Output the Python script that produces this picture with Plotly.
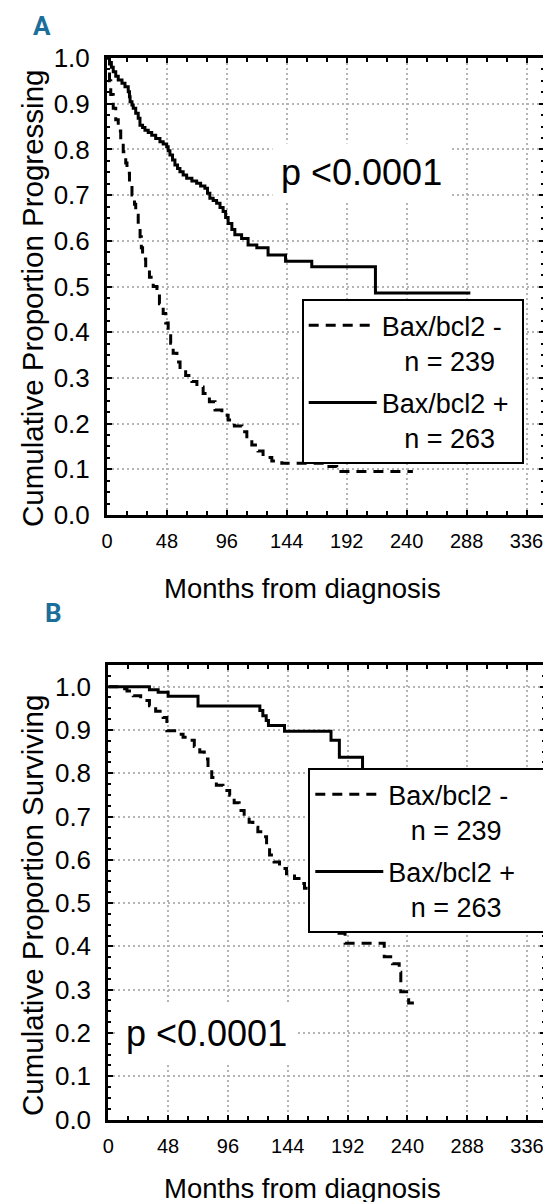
import plotly.graph_objects as go

W, H = 551, 1202
FONT = "Liberation Sans, Arial, sans-serif"

# ---------------- data ----------------
series_names = ["Bax/bcl2 -", "Bax/bcl2 +"]
n_labels = ["n = 239", "n = 263"]
x_ticks = [0, 48, 96, 144, 192, 240, 288, 336]
y_ticks = [0.0, 0.1, 0.2, 0.3, 0.4, 0.5, 0.6, 0.7, 0.8, 0.9, 1.0]
p_text = "p <0.0001"
panel_labels = ["A", "B"]
y_titles = ["Cumulative Proportion Progressing", "Cumulative Proportion Surviving"]
x_title = "Months from diagnosis"

# Panel A - cumulative proportion progressing (Kaplan-Meier steps)
a_neg_t = [0, 2, 3, 5, 7, 9, 11, 13, 15, 16, 18, 20, 22, 23, 25, 26.5, 27.5, 28.5, 31, 34,
           37, 40, 42, 45, 47, 49, 51, 53, 56, 58.5, 63, 68, 72, 77, 82, 86.5, 92, 97, 102, 108,
           112, 116, 121, 125, 132, 140, 174, 184, 245]
a_neg_p = [1.0, 0.95, 0.92, 0.89, 0.865, 0.84, 0.815, 0.795, 0.77, 0.748, 0.725, 0.70, 0.68, 0.656,
           0.632, 0.609, 0.585, 0.56, 0.54, 0.52, 0.50, 0.483, 0.462, 0.441, 0.42, 0.398, 0.376,
           0.354, 0.335, 0.317, 0.305, 0.292, 0.28, 0.266, 0.248, 0.23, 0.218, 0.208, 0.195, 0.182,
           0.168, 0.153, 0.14, 0.126, 0.118, 0.113, 0.106, 0.095, 0.095]
a_pos_t = [0, 2, 3.5, 5, 7, 9, 12, 14.4, 17, 18, 18.5, 20, 21, 23, 25, 26.4, 28.5, 30.4, 33, 35.8,
           39, 42.4, 45, 47.8, 49, 50.4, 52.5, 54.4, 56.5, 58.4, 61, 63.8, 68, 71.8, 75, 78.4, 80.5,
           82.4, 85, 87.8, 90.5, 93, 95, 97, 100, 102.4, 107.8, 113, 120, 129, 143, 164, 215, 291]
a_pos_p = [1.0, 0.99, 0.98, 0.97, 0.96, 0.952, 0.945, 0.937, 0.926, 0.915, 0.904, 0.897, 0.89, 0.879,
           0.868, 0.853, 0.848, 0.842, 0.837, 0.831, 0.824, 0.817, 0.812, 0.806, 0.797, 0.788, 0.777,
           0.766, 0.758, 0.751, 0.744, 0.737, 0.731, 0.726, 0.72, 0.715, 0.704, 0.693, 0.688, 0.682,
           0.673, 0.664, 0.651, 0.638, 0.625, 0.613, 0.605, 0.591, 0.585, 0.569, 0.555, 0.543, 0.486,
           0.486]

# Panel B - cumulative proportion surviving
b_neg_t = [0, 9, 15, 20, 26, 33, 38, 44, 47, 56, 60, 64, 69, 73.4, 77, 80, 83, 86.7, 92, 97.4,
           101, 105, 109, 113, 116, 120, 124, 127, 129.4, 133, 137.4, 143, 149.4, 153, 157.4, 170,
           182.7, 190, 221.4, 228, 233.4, 234.7, 241, 249.4]
b_neg_p = [1.0, 0.995, 0.99, 0.979, 0.968, 0.956, 0.943, 0.929, 0.898, 0.89, 0.883, 0.876, 0.862,
           0.849, 0.833, 0.81, 0.79, 0.772, 0.76, 0.749, 0.732, 0.714, 0.70, 0.687, 0.675, 0.665,
           0.653, 0.632, 0.611, 0.595, 0.58, 0.568, 0.557, 0.545, 0.534, 0.48, 0.43, 0.407, 0.376,
           0.36, 0.34, 0.295, 0.269, 0.269]
b_pos_t = [0, 33, 40, 48, 72, 121.6, 124, 126.7, 128.5, 141.4, 178.7, 185.4, 204, 210]
b_pos_p = [1.0, 0.993, 0.987, 0.978, 0.955, 0.945, 0.933, 0.922, 0.910, 0.897, 0.876, 0.837, 0.79,
           0.79]

# ---------------- figure ----------------
INDENT = "\u00a0\u00a0\u00a0"
DASH = "10px,7px"
LW = 3

fig = go.Figure()
panels = [
    (a_neg_t, a_neg_p, a_pos_t, a_pos_p, "x", "y", "legend", "\u00a0"),
    (b_neg_t, b_neg_p, b_pos_t, b_pos_p, "x2", "y2", "legend2", "\u2002\u2009\u2009"),
]
for nt, npv, pt, ppv, xa, ya, lg, tail in panels:
    fig.add_trace(go.Scatter(
        x=nt, y=npv, mode="lines", xaxis=xa, yaxis=ya, legend=lg, legendgroup=lg + "n",
        name=f"{series_names[0]}<br>{INDENT}{n_labels[0]}",
        line=dict(shape="hv", color="black", width=LW, dash=DASH)))
    fig.add_trace(go.Scatter(
        x=pt, y=ppv, mode="lines", xaxis=xa, yaxis=ya, legend=lg, legendgroup=lg + "p",
        name=f"{series_names[1]}{tail}<br>{INDENT}{n_labels[1]}",
        line=dict(shape="hv", color="black", width=LW)))


def xcfg(domain, anchor):
    return dict(
        domain=domain, anchor=anchor, range=[0, 350], automargin=False,
        tickmode="array", tickvals=x_ticks, ticktext=[str(v) for v in x_ticks],
        showline=True, linecolor="black", linewidth=3, mirror="allticks",
        ticks="inside", ticklen=5, tickwidth=2, tickcolor="black",
        minor=dict(ticks="inside", tickmode="linear", tick0=0, dtick=16, ticklen=4,
                   tickwidth=2, tickcolor="black", showgrid=False),
        showgrid=True, gridcolor="#b4b4b4", gridwidth=2, griddash="2px,3px",
        zeroline=False, ticklabelstandoff=6,
        tickfont=dict(family=FONT, size=20, color="black"),
    )


def ycfg(domain, anchor, top):
    return dict(
        domain=domain, anchor=anchor, range=[0, top], automargin=False,
        tickmode="array", tickvals=y_ticks, ticktext=[f"{v:.1f}" for v in y_ticks],
        showline=True, linecolor="black", linewidth=3, mirror="allticks",
        ticks="inside", ticklen=5, tickwidth=2, tickcolor="black",
        minor=dict(ticks="inside", tickmode="linear", tick0=0, dtick=0.025, ticklen=3,
                   tickwidth=2, tickcolor="black", showgrid=False),
        showgrid=True, gridcolor="#b4b4b4", gridwidth=2, griddash="2px,3px",
        zeroline=False, ticklabelstandoff=9,
        tickfont=dict(family=FONT, size=26, color="black"),
    )


# the page body adds an 8px margin; target pixel positions are compensated here
OX, OY = 8, 8


def px(x):
    return (x - OX) / W


def py(y):
    return 1 - (y - OY) / H


leg_common = dict(
    xanchor="left", yanchor="top", bgcolor="white", bordercolor="black", borderwidth=2,
    font=dict(family=FONT, size=27, color="black"), valign="top", itemwidth=68,
    tracegroupgap=4,
)

fig.update_layout(
    width=W, height=H, margin=dict(l=0, r=0, t=0, b=0, autoexpand=False),
    paper_bgcolor="white", plot_bgcolor="white", showlegend=True,
    xaxis=xcfg([px(107), px(544)], "y"),
    yaxis=ycfg([py(515), py(58)], "x", 1.0),
    xaxis2=xcfg([px(108.3), px(544.5)], "y2"),
    yaxis2=ycfg([py(1119.5), py(665)], "x2", 1.05),
    legend=dict(x=px(301.7), y=py(299.3), **leg_common),
    legend2=dict(x=px(308.3), y=py(768.3), **leg_common),
)

ann = []
ctr = dict(xanchor="center", yanchor="middle", showarrow=False)
# p-values
ann.append(dict(x=204, y=0.75, xref="x", yref="y", text=p_text, **ctr,
                font=dict(family=FONT, size=36, color="black"), bgcolor="white", borderpad=8))
ann.append(dict(x=79, y=0.198, xref="x2", yref="y2", text=p_text, **ctr,
                font=dict(family=FONT, size=36, color="black"), bgcolor="white", borderpad=8))
# axis titles
for yc in (588, 1188):
    ann.append(dict(x=px(302), y=py(yc), xref="paper", yref="paper", text=x_title, **ctr,
                    font=dict(family=FONT, size=27.5, color="black")))
for (yc, t) in ((299, y_titles[0]), (906, y_titles[1])):
    ann.append(dict(x=px(32), y=py(yc), xref="paper", yref="paper", text=t, textangle=-90,
                    **ctr, font=dict(family=FONT, size=29.5, color="black")))
# panel letters
for (xc, yc, t) in ((42, 26, panel_labels[0]), (53, 613, panel_labels[1])):
    ann.append(dict(x=px(xc), y=py(yc), xref="paper", yref="paper", text=f"<b>{t}</b>", **ctr,
                    font=dict(family="Roboto, Liberation Sans", size=26, color="#1b6d9a")))
fig.update_layout(annotations=ann)

fig.write_html("out.html")
